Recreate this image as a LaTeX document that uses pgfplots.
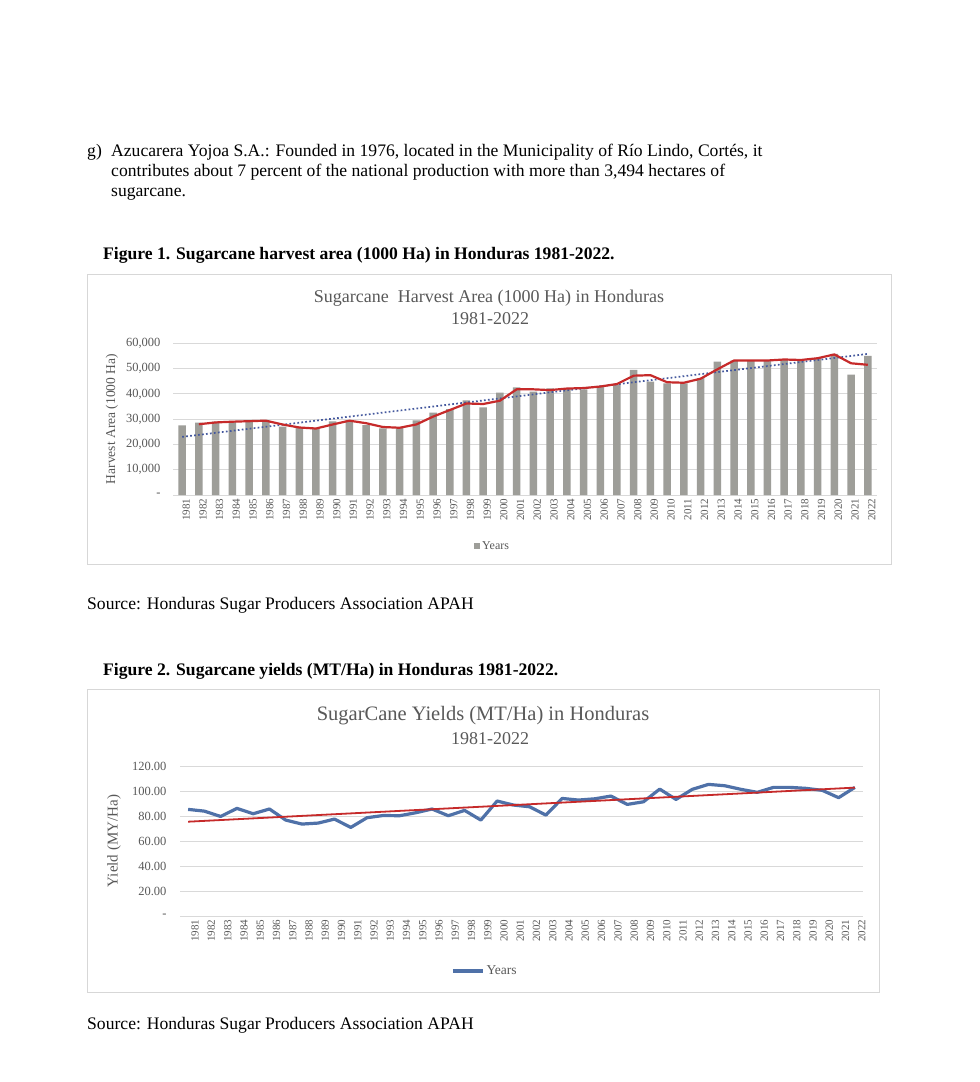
\documentclass[border=0pt]{standalone}
\usepackage{pgfplots}
\pgfplotsset{compat=1.18}
\usepackage{fontspec}
\setmainfont{Liberation Serif}
\definecolor{txtgray}{RGB}{89,89,89}
\definecolor{gridgray}{RGB}{217,217,217}
\definecolor{bargray}{RGB}{158,158,153}
\definecolor{mared}{RGB}{198,42,42}
\definecolor{trendblue}{RGB}{68,88,158}
\definecolor{lineblue}{RGB}{79,113,168}
\definecolor{framegray}{RGB}{215,215,215}

\pgfplotstableread{
year area
1981 27500
1982 28600
1983 29000
1984 29000
1985 29500
1986 29500
1987 27000
1988 26800
1989 26300
1990 29100
1991 29500
1992 27600
1993 26400
1994 26500
1995 29500
1996 32600
1997 34000
1998 37400
1999 34700
2000 40500
2001 42600
2002 40900
2003 42200
2004 42200
2005 41800
2006 42800
2007 43800
2008 49500
2009 44800
2010 44200
2011 44200
2012 46200
2013 52800
2014 53200
2015 53200
2016 53200
2017 53400
2018 53200
2019 54100
2020 55800
2021 47600
2022 55000
}\areatable

\pgfplotstableread{
year ma
1982 28000
1983 28700
1984 29000
1985 29200
1986 29400
1987 27900
1988 26700
1989 26300
1990 27900
1991 29400
1992 28400
1993 26900
1994 26600
1995 27900
1996 31000
1997 33600
1998 36200
1999 36000
2000 37300
2001 41800
2002 41800
2003 41500
2004 42100
2005 42300
2006 42900
2007 43900
2008 47200
2009 47400
2010 44600
2011 44400
2012 46000
2013 49700
2014 53200
2015 53200
2016 53200
2017 53600
2018 53400
2019 54100
2020 55600
2021 52100
2022 51500
}\matable

\pgfplotstableread{
year yield
1981 85.7
1982 84.3
1983 80.0
1984 86.5
1985 82.2
1986 86.0
1987 77.1
1988 73.9
1989 74.7
1990 77.9
1991 71.2
1992 79.0
1993 80.8
1994 80.6
1995 83.0
1996 86.0
1997 80.6
1998 84.9
1999 77.1
2000 92.4
2001 89.2
2002 87.8
2003 81.1
2004 94.5
2005 93.2
2006 94.2
2007 96.4
2008 89.7
2009 91.8
2010 102.0
2011 93.7
2012 101.8
2013 105.8
2014 104.7
2015 101.8
2016 99.4
2017 103.4
2018 103.4
2019 102.6
2020 101.0
2021 95.1
2022 103.4
}\yieldtable

\begin{document}
\begin{tikzpicture}[x=1pt,y=-1pt]
\fill[white] (0,0) rectangle (980,1082);
\path[use as bounding box] (0,0) rectangle (980,1082);

% body text
\node[anchor=base west, inner sep=0] at (87,156) {\fontsize{17.6}{20}\selectfont g)};
\node[anchor=base west, inner sep=0] at (111,156) {\fontsize{17.6}{20}\selectfont Azucarera Yojoa S.A.: Founded in 1976, located in the Municipality of Río Lindo, Cortés, it};
\node[anchor=base west, inner sep=0] at (111,176) {\fontsize{17.6}{20}\selectfont contributes about 7 percent of the national production with more than 3,494 hectares of};
\node[anchor=base west, inner sep=0] at (111,196) {\fontsize{17.6}{20}\selectfont sugarcane.};

\node[anchor=base west, inner sep=0] at (103,259) {\fontsize{17.6}{20}\selectfont\bfseries Figure 1. Sugarcane harvest area (1000 Ha) in Honduras 1981-2022.};

% chart 1 frame
\draw[framegray, line width=1pt] (87,274) rectangle (891,564);
\node[anchor=base, inner sep=0, text=txtgray] at (489,302) {\fontsize{18}{22}\selectfont Sugarcane\ \ Harvest Area (1000 Ha) in Honduras};
\node[anchor=base, inner sep=0, text=txtgray] at (490,324) {\fontsize{18}{22}\selectfont 1981-2022};
\node[rotate=90, inner sep=0, text=txtgray] at (112,419) {\fontsize{13.5}{16}\selectfont Harvest Area (1000 Ha)};

\begin{axis}[
  at={(173pt,-495pt)}, anchor=south west,
  scale only axis, width=704pt, height=151.7pt,
  xmin=1980.45, xmax=2022.55, ymin=0, ymax=60000,
  axis line style={draw=none},
  ymajorgrids, grid style={gridgray, line width=0.9pt},
  major tick length=0pt,
  scaled y ticks=false,
  ytick={0,10000,20000,30000,40000,50000,60000},
  yticklabels={-,{10,000},{20,000},{30,000},{40,000},{50,000},{60,000}},
  yticklabel style={font=\fontsize{12.5}{14}\selectfont, text=txtgray, xshift=-9pt},
  xtick={1981,1982,...,2022},
  /pgf/number format/assume math mode=true,
  /pgf/number format/1000 sep={},
  xticklabel style={rotate=90, anchor=east, font=\fontsize{11}{13}\selectfont, text=txtgray, yshift=-4pt},
  legend style={draw=none, fill=none, at={(axis description cs:0.454,-0.336)}, anchor=center, font=\fontsize{12}{14}\selectfont, text=txtgray},
  clip=false,
]
\addplot[ybar, bar width=7.5pt, fill=bargray, draw=none,
  legend image code/.code={\fill[bargray] (0pt,-3pt) rectangle (6pt,3pt);}]
  table[x=year, y=area] {\areatable};
\addlegendentry{Years}
\addplot[forget plot, trendblue, line width=1.7pt, dash pattern=on 1.7pt off 2.3pt] coordinates {(1981,23000) (2022,55800)};
\addplot[forget plot, mared, line width=2.2pt] table[x=year, y=ma] {\matable};
\end{axis}

\node[anchor=base west, inner sep=0] at (87,609) {\fontsize{17.6}{20}\selectfont Source: Honduras Sugar Producers Association APAH};

\node[anchor=base west, inner sep=0] at (103,675) {\fontsize{17.6}{20}\selectfont\bfseries Figure 2. Sugarcane yields (MT/Ha) in Honduras 1981-2022.};

% chart 2 frame
\draw[framegray, line width=1pt] (87,689) rectangle (879,992);
\node[anchor=base, inner sep=0, text=txtgray] at (483,720) {\fontsize{20.5}{24}\selectfont SugarCane Yields (MT/Ha) in Honduras};
\node[anchor=base, inner sep=0, text=txtgray] at (490,744) {\fontsize{18}{22}\selectfont 1981-2022};
\node[rotate=90, inner sep=0, text=txtgray] at (114,841) {\fontsize{15}{18}\selectfont Yield (MY/Ha)};

\begin{axis}[
  at={(180pt,-916pt)}, anchor=south west,
  scale only axis, width=683pt, height=149.3pt,
  xmin=1980.5, xmax=2022.5, ymin=0, ymax=120,
  axis line style={draw=none},
  ymajorgrids, grid style={gridgray, line width=0.9pt},
  major tick length=0pt,
  ytick={0,20,40,60,80,100,120},
  yticklabels={-,20.00,40.00,60.00,80.00,100.00,120.00},
  yticklabel style={font=\fontsize{12.5}{14}\selectfont, text=txtgray, xshift=-10pt},
  xtick={1981,1982,...,2022},
  /pgf/number format/assume math mode=true,
  /pgf/number format/1000 sep={},
  xticklabel style={rotate=90, anchor=east, font=\fontsize{11}{13}\selectfont, text=txtgray, yshift=-7pt},
  legend style={draw=none, fill=none, at={(axis description cs:0.4466,-0.368)}, anchor=center, font=\fontsize{13.5}{15}\selectfont, text=txtgray},
  clip=false,
]
\addplot[lineblue, line width=3.2pt, line join=round,
  legend image code/.code={\draw[lineblue, line width=3.2pt] (0pt,0pt) -- (30pt,0pt);}]
  table[x=year, y=yield] {\yieldtable};
\addlegendentry{Years}
\addplot[forget plot, mared, line width=1.8pt] coordinates {(1981,75.8) (2022,103.2)};
\end{axis}

\node[anchor=base west, inner sep=0] at (87,1029) {\fontsize{17.6}{20}\selectfont Source: Honduras Sugar Producers Association APAH};
\end{tikzpicture}
\end{document}
